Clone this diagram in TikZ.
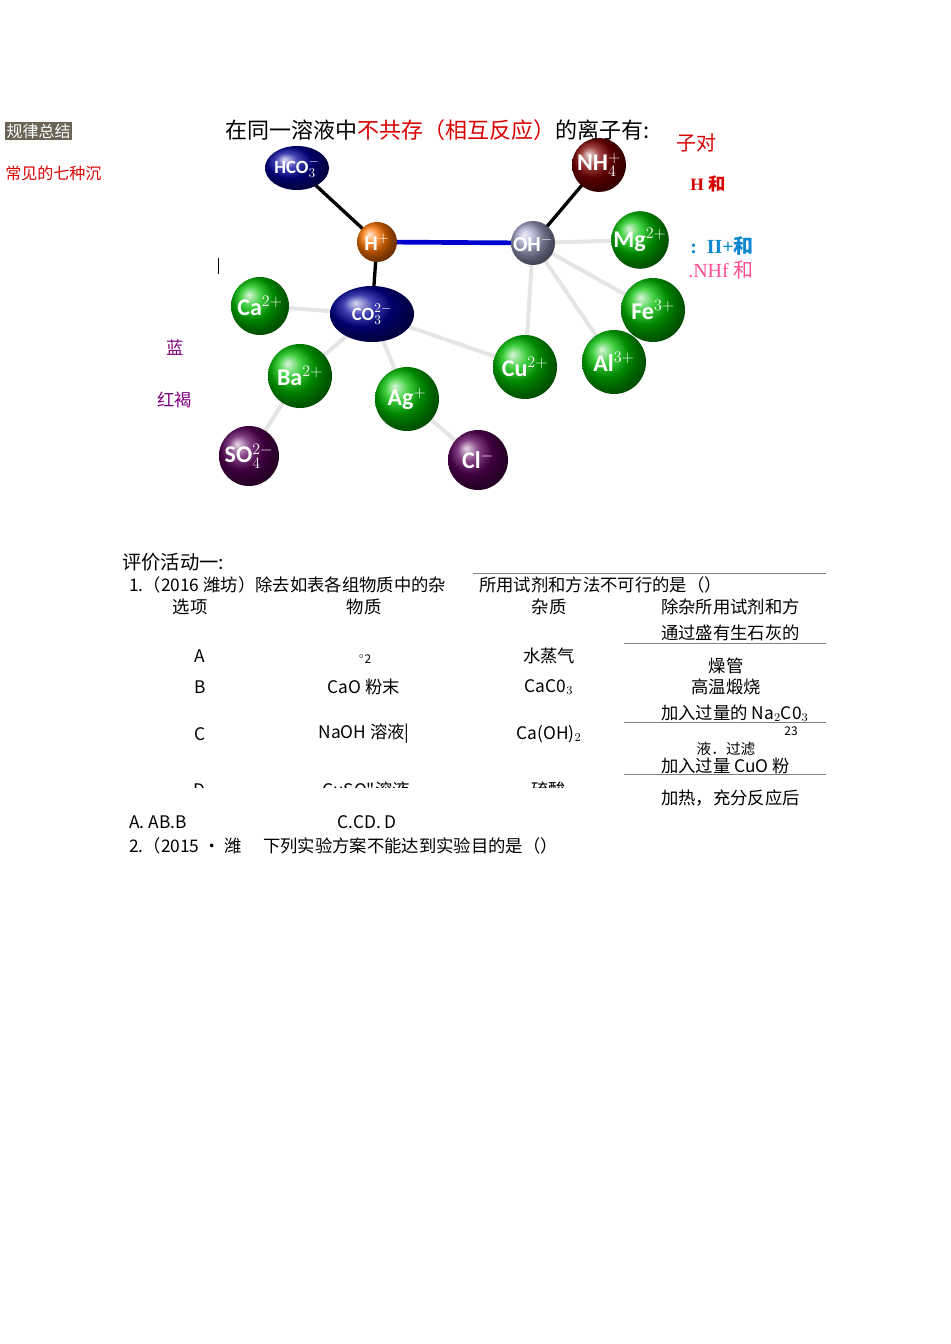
\documentclass[tikz,border=0pt]{standalone}
\usepackage{fontspec}
\usetikzlibrary{shapes.geometric}
\setmainfont{Liberation Serif}
\newfontfamily\cjk{Noto Sans CJK SC}
\newfontfamily\lsans{Carlito}
\newcommand\fs[1]{\fontsize{#1}{#1}\selectfont}
\begin{document}
\begin{tikzpicture}[x=0.75pt,y=-0.75pt,
 ball/.style={circle,minimum size=#1*0.75pt,inner sep=0pt,text=white,font=\lsans\bfseries\fs{18}},
 grn/.style={ball=#1,ball color=green!75!black},
 vio/.style={ball=#1,ball color=violet!70!black},
 gl/.style={line width=3pt,gray!20},
 bl/.style={line width=2.5pt,black},
 t/.style={inner sep=0pt,anchor=west,font=\cjk}]
\useasboundingbox (0,0) rectangle (950,1344);
\coordinate (pHCO) at (297,168); \coordinate (pNH) at (599,165);
\coordinate (pH) at (377,242); \coordinate (pOH) at (533,243);
\coordinate (pMg) at (640,240); \coordinate (pCa) at (260,306);
\coordinate (pCO) at (372,314); \coordinate (pFe) at (653,310);
\coordinate (pBa) at (300,376); \coordinate (pAg) at (407,399);
\coordinate (pCu) at (525,367); \coordinate (pAl) at (614,362);
\coordinate (pSO) at (249,456); \coordinate (pCl) at (478,460);
\foreach \a/\b in {pOH/pMg,pOH/pFe,pOH/pAl,pOH/pCu,pCO/pCa,pCO/pBa,pCO/pAg,pCO/pCu,pBa/pSO,pAg/pCl}
  \draw[gl] (\a)--(\b);
\draw[bl] (pHCO)--(pH); \draw[bl] (pH)--(pCO); \draw[bl] (pOH)--(pNH);
\draw[line width=3.5pt,blue!80!black] (pH)--(pOH);
\node[ball=50,ellipse,minimum width=64*0.75pt,minimum height=44*0.75pt,ball color=blue!60!black,font=\lsans\bfseries\fs{14}] (HCO) at (pHCO) {HCO$_3^-$};
\node[ball=54,ball color=red!50!black] (NH) at (pNH) {NH$_4^+$};
\node[ball=40,ball color=orange!90!red,font=\lsans\bfseries\fs{16}] (H) at (pH) {H$^+$};
\node[ball=44,ball color=blue!25!gray!60!white,font=\lsans\bfseries\fs{16}] (OH) at (pOH) {OH$^-$};
\node[grn=54] (Mg) at (pMg) {Mg$^{2+}$};
\node[grn=58] (Ca) at (pCa) {Ca$^{2+}$};
\node[ball=50,ellipse,minimum width=84*0.75pt,minimum height=56*0.75pt,ball color=blue!60!black,font=\lsans\bfseries\fs{14}] (CO) at (pCO) {CO$_3^{2-}$};
\node[grn=64] (Fe) at (pFe) {Fe$^{3+}$};
\node[grn=64] (Ba) at (pBa) {Ba$^{2+}$};
\node[grn=64] (Ag) at (pAg) {Ag$^+$};
\node[grn=64] (Cu) at (pCu) {Cu$^{2+}$};
\node[grn=64] (Al) at (pAl) {Al$^{3+}$};
\node[vio=60] (SO) at (pSO) {SO$_4^{2-}$};
\node[vio=60] (Cl) at (pCl) {Cl$^-$};
% texts
\node[t,fill={rgb,255:red,107;green,100;blue,87},text=white,font=\cjk\fs{12},inner sep=1pt] (gl) at (5,131) {规律总结};
\node[t,text=red!85!black,font=\cjk\fs{12}] (cj) at (5,173) {常见的七种沉};
\node[t,font=\cjk\fs{16.5}] (title) at (225,130) {在同一溶液中\textcolor{red!85!black}{不共存（相互反应）}的离子有:};
\node[t,text=red!85!black,font=\cjk\fs{15}] (dui) at (676,143) {子对};
\node[t,text=red!85!black,font=\bfseries\fs{13}] (Hhe) at (690,184) {H \cjk 和};
\node[t,text=cyan!70!blue,font=\bfseries\fs{15}] (IIhe) at (690,246) {:\ \ II+\cjk 和};
\node[t,text=red!60!magenta!70,font=\fs{15}] (NHf) at (688,270) {.NHf \cjk 和};
\node[t,text=violet,font=\cjk\fs{13}] (lan) at (166,348) {蓝};
\node[t,text=violet,font=\cjk\fs{13}] (hh) at (157,400) {红褐};
\draw (218,258)--(218,274);
% table
\begin{scope}[every node/.style={t,font=\cjk\fs{13}}]
\node[font=\cjk\fs{14.5}] at (122,562) {评价活动一:};
\node at (129,585) {1.（2016 潍坊）除去如表各组物质中的杂};
\node at (479,585) {所用试剂和方法不可行的是（）};
\node[anchor=center] at (190,607) {选项};
\node[anchor=center] at (364,607) {物质};
\node[anchor=center] at (549,607) {杂质};
\node at (661,607) {除杂所用试剂和方};
\node at (661,633) {通过盛有生石灰的};
\node[anchor=center] at (200,656) {A};
\node[anchor=center,font=\cjk\fs{9}] at (365,659) {$^{\circ}$2};
\node[anchor=center] at (549,656) {水蒸气};
\node[anchor=center] at (726,666) {燥管};
\node[anchor=center] at (200,687) {B};
\node[anchor=center] at (364,687) {CaO 粉末};
\node[anchor=center] at (549,687) {CaC0$_3$};
\node[anchor=center] at (726,687) {高温煅烧};
\node at (661,713) {加入过量的 Na$_2$C0$_3$};
\node[anchor=center,font=\cjk\fs{9}] at (791,731) {23};
\node[anchor=center] at (200,734) {C};
\node[anchor=center] at (364,734) {NaOH 溶液|};
\node[anchor=center] at (549,734) {Ca(OH)$_2$};
\node[anchor=center,font=\cjk\fs{11}] at (726,749) {液．过滤};
\node at (661,766) {加入过量 CuO 粉};
\node at (661,798) {加热，充分反应后};
\node at (129,822) {A. AB.B};
\node at (337,822) {C.CD. D};
\node at (129,846) {2.（2015 · 潍};
\node at (263,846) {下列实验方案不能达到实验目的是（）};
\end{scope}
\begin{scope}
\clip (150,775) rectangle (620,787);
\node[t,font=\cjk\fs{13}] at (193,790) {D};
\node[t,font=\cjk\fs{13}] at (322,790) {CuSO"溶液};
\node[t,font=\cjk\fs{13}] at (531,790) {硫酸};
\end{scope}
\draw[gray] (473,573)--(826,573);
\draw[gray] (624,643)--(826,643);
\draw[gray] (624,722)--(826,722);
\draw[gray] (624,774)--(826,774);
\end{tikzpicture}
\end{document}
